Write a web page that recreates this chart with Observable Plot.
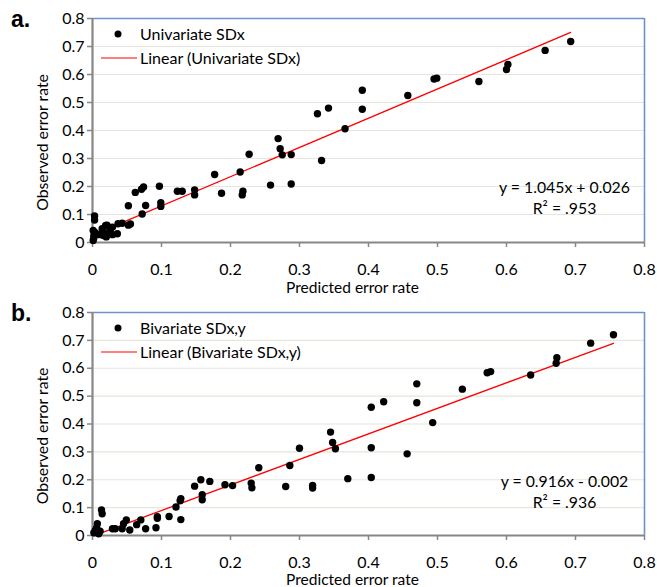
<!DOCTYPE html>
<html><head><meta charset="utf-8">
<script src="https://cdn.jsdelivr.net/npm/d3@7"></script>
<script src="https://cdn.jsdelivr.net/npm/@observablehq/plot@0.6"></script>
<style>
body{margin:0;background:#fff;}
#wrap{position:relative;width:657px;height:587px;font-family:Lato,"Open Sans",sans-serif;color:#000;overflow:hidden;}
.panel{position:absolute;left:0;}
.plabel{position:absolute;font-family:"Liberation Sans",Arial,sans-serif;font-weight:bold;font-size:23px;line-height:1;}
.legtxt{position:absolute;font-size:16px;line-height:1;transform:translateY(-50%);white-space:nowrap;}
.legdot{position:absolute;width:7px;height:7px;border-radius:50%;background:#000;transform:translate(-50%,-50%);}
.legline{position:absolute;height:0;border-top:1.3px solid #ff0000;transform:translateY(-50%);}
</style></head>
<body><div id="wrap"></div>
<script>
// ---- data ----
const xTicks = [0, 0.1, 0.2, 0.3, 0.4, 0.5, 0.6, 0.7, 0.8];
const xTickLabels = ["0", "0.1", "0.2", "0.3", "0.4", "0.5", "0.6", "0.7", "0.8"];
const yTicks = [0, 0.1, 0.2, 0.3, 0.4, 0.5, 0.6, 0.7, 0.8];
const yTickLabels = ["0", "0.1", "0.2", "0.3", "0.4", "0.5", "0.6", "0.7", "0.8"];
const gridLines = [0.1, 0.2, 0.3, 0.4, 0.5, 0.6, 0.7];

const uniPred = [0.693,0.656,0.602,0.600,0.560,0.499,0.495,0.457,0.391,0.391,0.366,0.342,0.326,0.332,0.269,0.272,0.275,0.288,0.227,0.214,0.177,0.187,0.218,0.217,0.258,0.288,0.148,0.148,0.123,0.130,0.097,0.099,0.099,0.074,0.071,0.077,0.072,0.062,0.052,0.055,0.052,0.043,0.037,0.036,0.029,0.029,0.026,0.021,0.019,0.014,0.016,0.016,0.010,0.020,0.024,0.003,0.003,0.001,0.002,0.001,0.002,0.004];
const uniObs  = [0.718,0.686,0.636,0.618,0.575,0.587,0.584,0.525,0.544,0.476,0.406,0.480,0.460,0.293,0.371,0.335,0.313,0.314,0.315,0.252,0.243,0.176,0.183,0.170,0.205,0.209,0.188,0.170,0.183,0.183,0.201,0.142,0.129,0.198,0.190,0.132,0.102,0.179,0.131,0.066,0.062,0.069,0.067,0.031,0.028,0.055,0.047,0.062,0.061,0.049,0.025,0.033,0.028,0.020,0.035,0.095,0.080,0.043,0.025,0.007,0.017,0.035];

const biPred = [0.755,0.722,0.673,0.672,0.635,0.577,0.572,0.536,0.470,0.470,0.493,0.422,0.404,0.456,0.404,0.404,0.370,0.345,0.348,0.352,0.300,0.286,0.280,0.319,0.319,0.241,0.230,0.231,0.203,0.192,0.170,0.157,0.148,0.159,0.159,0.128,0.127,0.121,0.128,0.111,0.094,0.094,0.092,0.077,0.070,0.064,0.054,0.049,0.045,0.043,0.033,0.029,0.013,0.014,0.007,0.004,0.009,0.006,0.002,0.011];
const biObs  = [0.720,0.690,0.638,0.618,0.576,0.588,0.584,0.525,0.544,0.476,0.405,0.480,0.460,0.293,0.315,0.208,0.204,0.371,0.334,0.311,0.313,0.251,0.176,0.180,0.170,0.243,0.188,0.171,0.179,0.182,0.194,0.200,0.177,0.146,0.128,0.132,0.125,0.102,0.057,0.068,0.067,0.062,0.028,0.024,0.056,0.039,0.020,0.056,0.042,0.024,0.024,0.024,0.092,0.078,0.042,0.018,0.006,0.028,0.010,0.015];

const panelNames = ["a.", "b."];
const seriesNames = ["Univariate SDx", "Bivariate SDx,y"];
const fitNames = ["Linear (Univariate SDx)", "Linear (Bivariate SDx,y)"];
const fitSlopes = [1.045, 0.916];
const fitIntercepts = [0.026, -0.002];
const equations = ["y = 1.045x + 0.026", "y = 0.916x - 0.002"];
const r2Texts = ["R\u00B2 = .953", "R\u00B2 = .936"];
const xLabel = "Predicted error rate";
const yLabel = "Observed error rate";

// ---- layout ----
const wrap = document.getElementById("wrap");
const layouts = [
  {top: 0, height: 293, mt: 18, mb: 51, labDy: 46},
  {top: 293, height: 294, mt: 19, mb: 52, labDy: 45}
];
const gray = "#878787", blue = "#6d93c9", grid = "#e6e6dc";
const FONT = "Lato, 'Open Sans', sans-serif";

function makePanel(k, pred, obs) {
  const L = layouts[k];
  const pts = pred.map((x, i) => ({x, y: obs[i]}));
  const x0 = d3.min(pred), x1 = d3.max(pred);
  const fit = [x0, x1].map(x => ({x, y: fitSlopes[k] * x + fitIntercepts[k]}));
  const fmtX = d => xTickLabels[xTicks.indexOf(d)];
  const fmtY = d => yTickLabels[yTicks.indexOf(d)];
  const plot = Plot.plot({
    width: 657, height: L.height,
    marginLeft: 92, marginRight: 13, marginTop: L.mt, marginBottom: L.mb,
    x: {domain: [0, 0.8]}, y: {domain: [0, 0.8]},
    style: {fontFamily: FONT, fontSize: "16px", color: "#000", background: "transparent", overflow: "visible"},
    marks: [
      Plot.ruleY(gridLines, {stroke: grid, strokeWidth: 1.2}),
      Plot.ruleY([0.8], {stroke: blue, strokeWidth: 1.6}),
      Plot.ruleX([0.8], {stroke: blue, strokeWidth: 1.6}),
      Plot.axisY({ticks: yTicks, tickFormat: fmtY, tickSize: 5, tickPadding: 3, stroke: gray, fill: "#000", strokeWidth: 1.5, fontSize: 16, label: null}),
      Plot.axisX({ticks: xTicks, tickFormat: fmtX, tickSize: 5, tickPadding: 16, stroke: gray, fill: "#000", strokeWidth: 1.5, fontSize: 16, label: null}),
      Plot.ruleX([0], {stroke: gray, strokeWidth: 2.2}),
      Plot.ruleY([0], {stroke: gray, strokeWidth: 2.2}),
      Plot.line(fit, {x: "x", y: "y", stroke: "#ff0000", strokeWidth: 1.3}),
      Plot.dot(pts, {x: "x", y: "y", r: 3.7, fill: "#000", stroke: null}),
      Plot.text([equations[k]], {frameAnchor: "top-left", dx: 472, dy: 169, textAnchor: "middle", lineAnchor: "middle", fontSize: 15.8, fill: "#000"}),
      Plot.text([r2Texts[k]], {frameAnchor: "top-left", dx: 472, dy: 190, textAnchor: "middle", lineAnchor: "middle", fontSize: 15.8, fill: "#000"}),
      Plot.text([xLabel], {frameAnchor: "bottom", dx: -16, dy: L.labDy, textAnchor: "middle", lineAnchor: "middle", fontSize: 15.5, fill: "#000"}),
      Plot.text([yLabel], {frameAnchor: "left", dx: -50, dy: 12, rotate: -90, textAnchor: "middle", lineAnchor: "middle", fontSize: 15.8, fill: "#000"})
    ]
  });
  plot.classList.add("panel");
  plot.style.top = L.top + "px";
  wrap.appendChild(plot);

  // panel letter
  const lab = document.createElement("div");
  lab.className = "plabel";
  lab.textContent = panelNames[k];
  lab.style.left = "11px";
  lab.style.top = (L.top + L.mt - 10) + "px";
  wrap.appendChild(lab);

  // legend
  const fy = L.top + L.mt;
  const dot = document.createElement("div");
  dot.className = "legdot";
  dot.style.left = "118px"; dot.style.top = (fy + 16) + "px";
  wrap.appendChild(dot);
  const t1 = document.createElement("div");
  t1.className = "legtxt"; t1.textContent = seriesNames[k];
  t1.style.left = "140px"; t1.style.top = (fy + 16) + "px";
  wrap.appendChild(t1);
  const ln = document.createElement("div");
  ln.className = "legline";
  ln.style.left = "101px"; ln.style.width = "36px"; ln.style.top = (fy + 40) + "px";
  wrap.appendChild(ln);
  const t2 = document.createElement("div");
  t2.className = "legtxt"; t2.textContent = fitNames[k];
  t2.style.left = "140px"; t2.style.top = (fy + 40) + "px";
  wrap.appendChild(t2);
}

makePanel(0, uniPred, uniObs);
makePanel(1, biPred, biObs);
</script>
</body></html>
